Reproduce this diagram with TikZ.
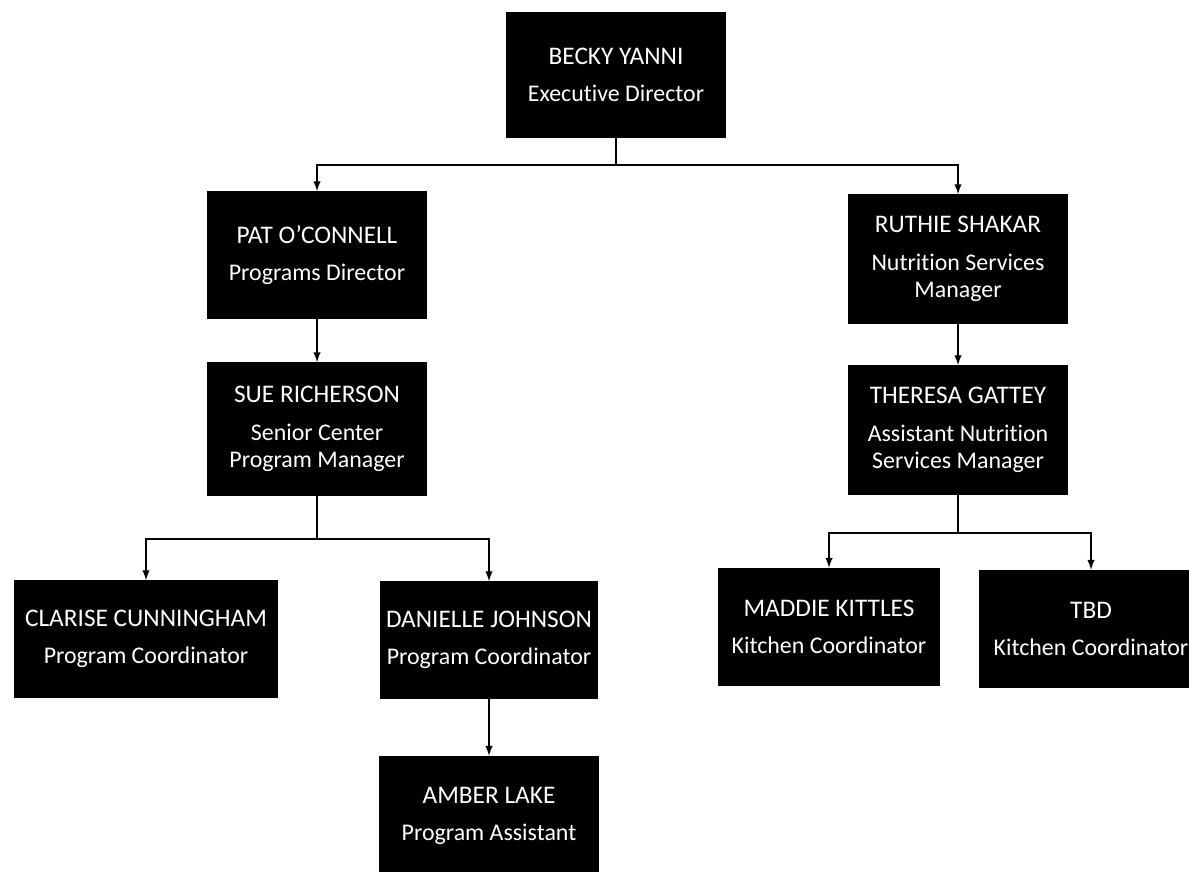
\documentclass[tikz,border=0pt]{standalone}
\usepackage{fontspec}
\setmainfont{Carlito}[Ligatures=NoCommon]
\usetikzlibrary{arrows}
\usetikzlibrary{positioning}

\newcommand{\who}[1]{{\fontsize{18}{21}\selectfont #1}}

\tikzset{
  staff/.style={rectangle, fill=black, text=white, align=center,
    inner sep=0pt, minimum width=5.5cm, minimum height=3.2cm,
    font=\fontsize{17}{19.5}\selectfont},
  link/.style={line width=1.4pt, -latex},
}

\begin{document}
\begin{tikzpicture}[x=0.025cm, y=-0.025cm]
  \clip (0,0) rectangle (1189,871);

  % top
  \node[staff, minimum height=3.15cm] (Becky) at (616,75)
    {\who{BECKY YANNI}\\[7pt]Executive Director};

  % programs side
  \node[staff, minimum height=3.18cm] (Pat) at (317,255)
    {\who{PAT O’CONNELL}\\[7pt]Programs Director};
  \node[staff, minimum height=3.33cm] (Sue) at (317,429)
    {\who{SUE RICHERSON}\\[7pt]Senior Center\\Program Manager};
  \node[staff, minimum width=6.6cm, minimum height=2.93cm] (Clarise) at (146,639)
    {\who{CLARISE CUNNINGHAM}\\[7pt]Program Coordinator};
  \node[staff, minimum width=5.45cm, minimum height=2.93cm] (Danielle) at (489,640)
    {\who{DANIELLE JOHNSON}\\[7pt]Program Coordinator};
  \node[staff, minimum width=5.48cm, minimum height=3cm] (Amber) at (489,816)
    {\who{AMBER LAKE}\\[7pt]Program Assistant};

  % nutrition side
  \node[staff, minimum height=3.23cm] (Ruthie) at (958,259)
    {\who{RUTHIE SHAKAR}\\[7pt]Nutrition Services\\Manager};
  \node[staff, minimum height=3.23cm] (Theresa) at (958,430)
    {\who{THERESA GATTEY}\\[7pt]Assistant Nutrition\\Services Manager};
  \node[staff, minimum width=5.55cm, minimum height=2.95cm] (Maddie) at (829,627)
    {\who{MADDIE KITTLES}\\[7pt]Kitchen Coordinator};
  \node[staff, minimum width=5.6cm, minimum height=2.95cm] (Tbd) at (1091,629)
    {\who{TBD}\\[7pt]Kitchen Coordinator};

  \draw[link] (Becky.south) -- ++(0,27) -| (Pat.north);
  \draw[link] (Becky.south) -- ++(0,27) -| (Ruthie.north);
  \draw[link] (Pat) -- (Sue);
  \draw[link] (Ruthie) -- (Theresa);
  \draw[link] (Sue.south) -- ++(0,43) -| (Clarise.north);
  \draw[link] (Sue.south) -- ++(0,43) -| (Danielle.north);
  \draw[link] (Danielle) -- (Amber);
  \draw[link] (Theresa.south) -- ++(0,38) -| (Maddie.north);
  \draw[link] (Theresa.south) -- ++(0,38) -| (Tbd.north);
\end{tikzpicture}
\end{document}
